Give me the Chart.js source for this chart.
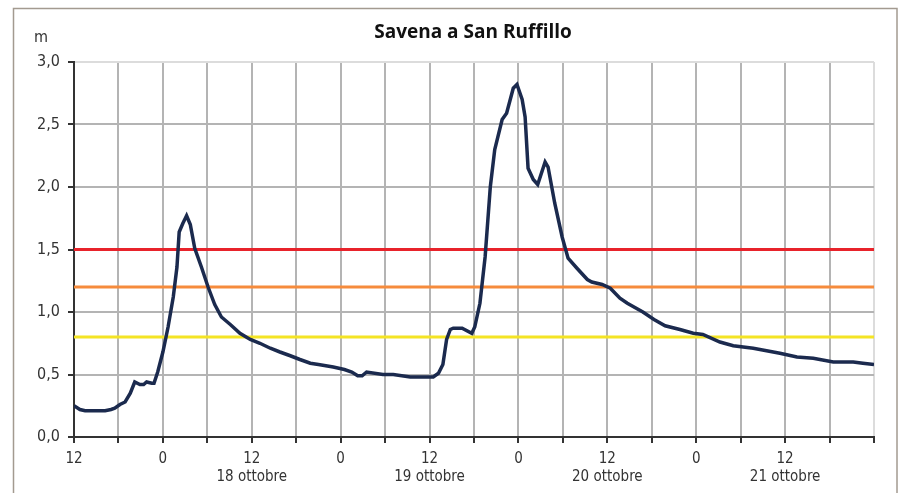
<!DOCTYPE html>
<html>
<head>
<meta charset="utf-8">
<script src="https://cdn.jsdelivr.net/npm/chart.js@4.4.1/dist/chart.umd.min.js"></script>
<style>
  body { margin: 0; background: #fff; }
  #wrap { width: 900px; height: 493px; position: relative; }
</style>
</head>
<body>
<div id="wrap"><canvas id="chart" width="900" height="493"></canvas></div>
<script>
// hours from 17 ottobre 12:00
const hours = [0, 0.8, 1.5, 4.2, 5.0, 5.5, 6.2, 6.9, 7.6, 8.2, 8.9, 9.4, 9.8, 10.5, 10.8, 11.3,
  12.0, 12.7, 13.4, 13.9, 14.2, 14.7, 15.2, 15.7, 16.3, 17.2, 18.1, 19.0, 19.9, 21.1, 22.4,
  23.8, 25.1, 26.5, 27.8, 29.2, 30.5, 31.9, 33, 35, 36.5, 37.5, 38.3, 38.9, 39.5, 41.7, 43.1,
  45.4, 48.0, 48.5, 49.2, 49.8, 50.3, 50.8, 51.2, 52.4, 53.7, 54.1, 54.8, 55.5, 56.2, 56.8,
  57.8, 58.4, 59.3, 59.8, 60.5, 60.9, 61.3, 62.0, 62.6, 63.6, 64.0, 64.9, 65.9, 66.7, 67.9,
  69.3, 69.9, 71.3, 72.4, 73.7, 74.7, 76.8, 78.3, 79.8, 81.8, 83.6, 84.9, 87.2, 89.0, 91.7,
  93.5, 95.3, 97.6, 99.8, 102.5, 105.2, 106.5, 108];
const levels = [0.25, 0.22, 0.21, 0.21, 0.22, 0.23, 0.26, 0.28, 0.35, 0.44, 0.42, 0.42, 0.44, 0.43, 0.43, 0.52,
  0.68, 0.88, 1.12, 1.36, 1.64, 1.71, 1.77, 1.70, 1.51, 1.36, 1.20, 1.06, 0.96, 0.90, 0.83,
  0.78, 0.75, 0.71, 0.68, 0.65, 0.62, 0.59, 0.58, 0.56, 0.54, 0.52, 0.49, 0.49, 0.52, 0.50, 0.50,
  0.48, 0.48, 0.48, 0.51, 0.58, 0.78, 0.86, 0.87, 0.87, 0.83, 0.88, 1.07, 1.44, 2.00, 2.30,
  2.54, 2.59, 2.79, 2.82, 2.70, 2.56, 2.15, 2.06, 2.02, 2.20, 2.16, 1.87, 1.60, 1.43, 1.35,
  1.26, 1.24, 1.22, 1.19, 1.11, 1.07, 1.00, 0.94, 0.89, 0.86, 0.83, 0.82, 0.76, 0.73, 0.71,
  0.69, 0.67, 0.64, 0.63, 0.60, 0.60, 0.59, 0.58];

const thresholds = [1.5, 1.2, 0.8];
const thresholdColors = ["#e8232b", "#f68b3c", "#f4e425"];

const tickHours = [0, 12, 24, 36, 48, 60, 72, 84, 96];
const tickLabels = ["12", "0", "12", "0", "12", "0", "12", "0", "12"];
const dayLabels = { 24: "18 ottobre", 48: "19 ottobre", 72: "20 ottobre", 96: "21 ottobre" };

const titleText = "Savena a San Ruffillo";
const unitText = "m";

const narrow = "'Liberation Sans Narrow', 'DejaVu Sans Condensed', 'Roboto Condensed', Roboto, sans-serif";

const datasets = [{
  label: titleText,
  data: hours.map((h, i) => ({ x: h, y: levels[i] })),
  borderColor: "#1b2a4e",
  borderWidth: 3.5,
  pointRadius: 0,
  tension: 0
}];
thresholds.forEach((t, i) => {
  datasets.push({
    data: [{ x: 0, y: t }, { x: 108, y: t }],
    borderColor: thresholdColors[i],
    borderWidth: 3,
    pointRadius: 0
  });
});

// frame, centred title and unit label
const frame = {
  id: "frame",
  afterDraw(chart) {
    const c = chart.ctx;
    const area = chart.chartArea;
    c.save();
    c.strokeStyle = "#a39a90";
    c.lineWidth = 1.5;
    c.strokeRect(13.5, 8.5, 883.5, 500);
    c.fillStyle = "#111";
    c.font = "bold 19px 'Open Sans', sans-serif";
    c.textAlign = "center";
    c.textBaseline = "middle";
    c.fillText(titleText, (area.left + area.right) / 2 - 1, 33);
    c.fillStyle = "#333";
    c.font = "16px " + narrow;
    c.fillText(unitText, 41, 38);
    c.restore();
  }
};

new Chart(document.getElementById("chart"), {
  type: "line",
  data: { datasets },
  plugins: [frame],
  options: {
    responsive: false,
    animation: false,
    layout: { padding: { left: 0, right: 26, top: 62, bottom: 0 } },
    plugins: {
      legend: { display: false },
      tooltip: { enabled: false },
      title: { display: false }
    },
    scales: {
      x: {
        type: "linear",
        min: 0,
        max: 108,
        afterBuildTicks(scale) {
          const t = [];
          for (let h = 0; h <= 108; h += 6) t.push({ value: h });
          scale.ticks = t;
        },
        afterFit(scale) { scale.height = 56; },
        ticks: {
          autoSkip: false,
          maxRotation: 0,
          padding: 7,
          color: "#333",
          font: { family: narrow, size: 15, lineHeight: 1.2 },
          callback(v) {
            const i = tickHours.indexOf(v);
            if (i < 0) return "";
            return dayLabels[v] ? [tickLabels[i], dayLabels[v]] : tickLabels[i];
          }
        },
        grid: {
          color: (ctx) => ctx.index === 18 ? "#dcdcdc" : "#b4b4b4",
          lineWidth: 2,
          tickColor: "#333",
          tickLength: 6,
          tickWidth: 2
        },
        border: { color: "#333", width: 2 }
      },
      y: {
        min: 0,
        max: 3,
        afterFit(scale) { scale.width = 74; },
        ticks: {
          stepSize: 0.5,
          padding: 8,
          color: "#333",
          font: { family: narrow, size: 16 },
          callback: (v) => v.toFixed(1).replace(".", ",")
        },
        grid: {
          color: (ctx) => ctx.index === 6 ? "#dcdcdc" : "#b4b4b4",
          lineWidth: 2,
          tickColor: "#333",
          tickLength: 6,
          tickWidth: 2
        },
        border: { color: "#333", width: 2 }
      }
    }
  }
});
</script>
</body>
</html>
